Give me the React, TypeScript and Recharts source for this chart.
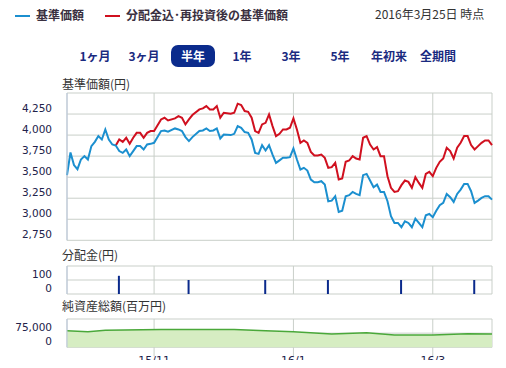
import React from "react";
import {
  LineChart,
  Line,
  ComposedChart,
  Bar,
  AreaChart,
  Area,
  XAxis,
  YAxis,
  CartesianGrid,
} from "recharts";

// business-day index (0 = 2015/9/25 ... 122 = 2016/3/25)
const days = [
  0, 1, 2, 3, 4, 5, 6, 7, 8, 9, 10, 11, 12, 13, 14, 15, 16, 17, 18, 19, 20, 21, 22, 23, 24, 25,
  27, 28, 29, 31, 32, 33, 34, 35, 36, 38, 39, 40, 41, 42, 43, 44, 45, 47, 48, 49, 50, 51, 52, 53,
  54, 55, 56, 57, 58, 59, 60, 61, 62, 63, 64, 65, 66, 67, 68, 69, 70, 71, 72, 73, 74, 75, 76, 77,
  78, 79, 80, 81, 82, 83, 84, 85, 86, 87, 88, 89, 90, 91, 92, 93, 94, 95, 96, 97, 98, 99, 100,
  101, 102, 103, 104, 105, 106, 107, 108, 109, 110, 111, 112, 113, 114, 115, 116, 117, 118, 119,
  120, 121, 122,
];

// 基準価額
const nav = [
  3524, 3793, 3643, 3595, 3710, 3750, 3710, 3869, 3920, 3988, 3948, 4067, 3948, 3888, 3876, 3810,
  3789, 3829, 3750, 3810, 3869, 3869, 3829, 3888, 3896, 3908, 4048, 4055, 4040, 4079, 4067, 4048,
  3976, 3929, 3976, 4048, 4055, 4079, 4048, 4055, 4079, 3960, 4007, 4000, 4015, 4107, 4087, 4036,
  4027, 3948, 3789, 3777, 3881, 3817, 3881, 3769, 3670, 3700, 3730, 3730, 3738, 3841, 3710, 3591,
  3611, 3579, 3472, 3440, 3440, 3452, 3412, 3214, 3221, 3274, 3087, 3102, 3274, 3286, 3325, 3301,
  3286, 3524, 3539, 3460, 3381, 3412, 3325, 3325, 3214, 3036, 2956, 2956, 2905, 2976, 2956, 2905,
  3007, 2956, 2905, 3048, 3063, 3024, 3102, 3167, 3194, 3301, 3262, 3206, 3301, 3352, 3420, 3420,
  3333, 3194, 3221, 3254, 3274, 3274, 3233,
];

// 分配金込・再投資後の基準価額 (same as nav until the first distribution)
const navReinvest = [
  null, null, null, null, null, null, null, null, null, null, null, null, null, null, 3876, 3948,
  3920, 3968, 3896, 3968, 4027, 4027, 3968, 4027, 4048, 4048, 4186, 4206, 4174, 4198, 4226, 4206,
  4127, 4186, 4238, 4305, 4317, 4345, 4305, 4305, 4345, 4206, 4265, 4254, 4265, 4373, 4357, 4286,
  4277, 4206, 4048, 4027, 4127, 4146, 4245, 4107, 3988, 4015, 4067, 4067, 4087, 4198, 4067, 3908,
  3936, 3908, 3801, 3757, 3757, 3769, 3730, 3611, 3619, 3670, 3472, 3484, 3682, 3698, 3750, 3722,
  3710, 3968, 3988, 3888, 3829, 3857, 3750, 3750, 3512, 3373, 3325, 3333, 3405, 3460, 3444, 3373,
  3500, 3432, 3373, 3539, 3563, 3512, 3611, 3682, 3722, 3849, 3810, 3722, 3849, 3908, 3988, 3988,
  3881, 3829, 3869, 3908, 3936, 3936, 3881,
];

const distDays = [15, 35, 57, 75, 96, 117];
const distValues = [130, 100, 100, 100, 100, 100];

const assetDays = [0, 6, 11, 27, 48, 57, 65, 76, 86, 94, 105, 115, 122];
const assetValues = [88000, 83000, 91000, 95000, 95000, 88000, 83000, 70000, 77000, 65000, 65000, 72000, 70000];

const monthTicks = [25, 65, 105];
const monthLabels = ["15/11", "16/1", "16/3"];

const navTicks = [2750, 3000, 3250, 3500, 3750, 4000, 4250, 4500];
const distTicks = [0, 100, 200];
const assetTicks = [0, 75000, 150000];

const periods = ["1ヶ月", "3ヶ月", "半年", "1年", "3年", "5年", "年初来", "全期間"];

const navData = days.map((d, i) => ({ day: d, nav: nav[i], reinvest: navReinvest[i] }));
const distData = distDays.map((d, i) => ({ day: d, dist: distValues[i] }));
const assetData = assetDays.map((d, i) => ({ day: d, assets: assetValues[i] }));

const GRID = "#c9cfc9";
const AXIS = "#b9c6dc";
const TICK = "#22224a";
const JP = '"Noto Sans CJK JP", "Noto Sans", sans-serif';
const NUM = '"DejaVu Sans", sans-serif';
const MARGIN_X = { left: 0, right: 14 };

const yTick = (hide: number) => (props: any) => {
  const { x, y, payload } = props;
  if (payload.value === hide) return <g />;
  return (
    <text x={x} y={y - 2} textAnchor="end" fill={TICK} fontSize={10.5} fontFamily={NUM}>
      {payload.value.toLocaleString("en-US")}
    </text>
  );
};

const xTick = (props: any) => {
  const { x, y, payload } = props;
  const label = monthLabels[monthTicks.indexOf(payload.value)];
  return (
    <text x={x} y={y + 6} textAnchor="middle" fill={TICK} fontSize={11} fontFamily={NUM}>
      {label}
    </text>
  );
};

const hiddenX = (
  <XAxis type="number" dataKey="day" domain={[0, 122]} ticks={monthTicks} interval={0} hide />
);

const title = (text: string, top: number) => (
  <div style={{ position: "absolute", left: 62, top, fontSize: 12, lineHeight: "16px", color: "#333", fontFamily: JP }}>
    {text}
  </div>
);

export default function App() {
  return (
    <div style={{ position: "relative", width: 506, height: 368, margin: -8, background: "#fff", overflow: "hidden", fontFamily: JP }}>
      {/* legend */}
      <div style={{ position: "absolute", left: 15, top: 15, width: 15, height: 2, background: "#1b8fcf" }} />
      <div style={{ position: "absolute", left: 36, top: 7, fontSize: 12, lineHeight: "16px", fontWeight: 700, color: "#3a3040" }}>
        基準価額
      </div>
      <div style={{ position: "absolute", left: 105, top: 15, width: 15, height: 2, background: "#d0101f" }} />
      <div style={{ position: "absolute", left: 126, top: 7, fontSize: 12, lineHeight: "16px", fontWeight: 700, color: "#3a3040" }}>
        分配金込･再投資後の基準価額
      </div>
      <div style={{ position: "absolute", left: 375, top: 6, fontSize: 12, lineHeight: "16px", color: "#333" }}>
        2016年3月25日 時点
      </div>

      {/* period buttons */}
      {periods.map((p, i) => {
        const selected = p === "半年";
        return (
          <div
            key={p}
            style={{
              position: "absolute",
              left: 70.5 + i * 49 + (selected ? 2.5 : 0),
              top: 45,
              width: selected ? 44 : 49,
              height: 22,
              lineHeight: "22px",
              textAlign: "center",
              fontSize: 12,
              fontWeight: 700,
              borderRadius: 7,
              background: selected ? "#0b2b8c" : "transparent",
              color: selected ? "#fff" : "#1a2a80",
            }}
          >
            {p}
          </div>
        );
      })}

      {title("基準価額(円)", 76)}
      {title("分配金(円)", 247)}
      {title("純資産総額(百万円)", 298)}

      {/* NAV chart */}
      <div style={{ position: "absolute", left: 0, top: 83 }}>
        <LineChart width={506} height={167} data={navData} margin={{ ...MARGIN_X, top: 10, bottom: 9.7 }}>
          <CartesianGrid stroke={GRID} />
          {hiddenX}
          <YAxis
            domain={[2750, 4500]}
            ticks={navTicks}
            interval={0}
            width={67}
            tickSize={0}
            tickMargin={15}
            tick={yTick(4500)}
            axisLine={{ stroke: AXIS }}
            tickLine={false}
          />
          <Line dataKey="reinvest" stroke="#d0101f" strokeWidth={2} dot={false} isAnimationActive={false} />
          <Line dataKey="nav" stroke="#1b8fcf" strokeWidth={2} dot={false} isAnimationActive={false} />
        </LineChart>
      </div>

      {/* distribution chart */}
      <div style={{ position: "absolute", left: 0, top: 256 }}>
        <ComposedChart width={506} height={44} data={distData} margin={{ ...MARGIN_X, top: 10, bottom: 6 }}>
          <CartesianGrid stroke={GRID} />
          {hiddenX}
          <YAxis
            domain={[0, 200]}
            ticks={distTicks}
            interval={0}
            width={67}
            tickSize={0}
            tickMargin={15}
            tick={yTick(200)}
            axisLine={{ stroke: AXIS }}
            tickLine={false}
          />
          <Bar dataKey="dist" fill="#0a2a8c" barSize={2} isAnimationActive={false} />
        </ComposedChart>
      </div>

      {/* net assets chart */}
      <div style={{ position: "absolute", left: 0, top: 309 }}>
        <AreaChart width={506} height={59} data={assetData} margin={{ ...MARGIN_X, top: 10, bottom: 0.7 }}>
          <CartesianGrid stroke={GRID} />
          <XAxis
            type="number"
            dataKey="day"
            domain={[0, 122]}
            ticks={monthTicks}
            interval={0}
            height={20}
            tickSize={9}
            tickMargin={2}
            tick={xTick}
            axisLine={false}
            tickLine={{ stroke: GRID }}
          />
          <YAxis
            domain={[0, 150000]}
            ticks={assetTicks}
            interval={0}
            width={67}
            tickSize={0}
            tickMargin={15}
            tick={yTick(150000)}
            axisLine={{ stroke: AXIS }}
            tickLine={false}
          />
          <Area
            dataKey="assets"
            type="linear"
            stroke="#4aa83a"
            strokeWidth={1.5}
            fill="#d6edc2"
            fillOpacity={1}
            isAnimationActive={false}
          />
        </AreaChart>
      </div>
    </div>
  );
}
